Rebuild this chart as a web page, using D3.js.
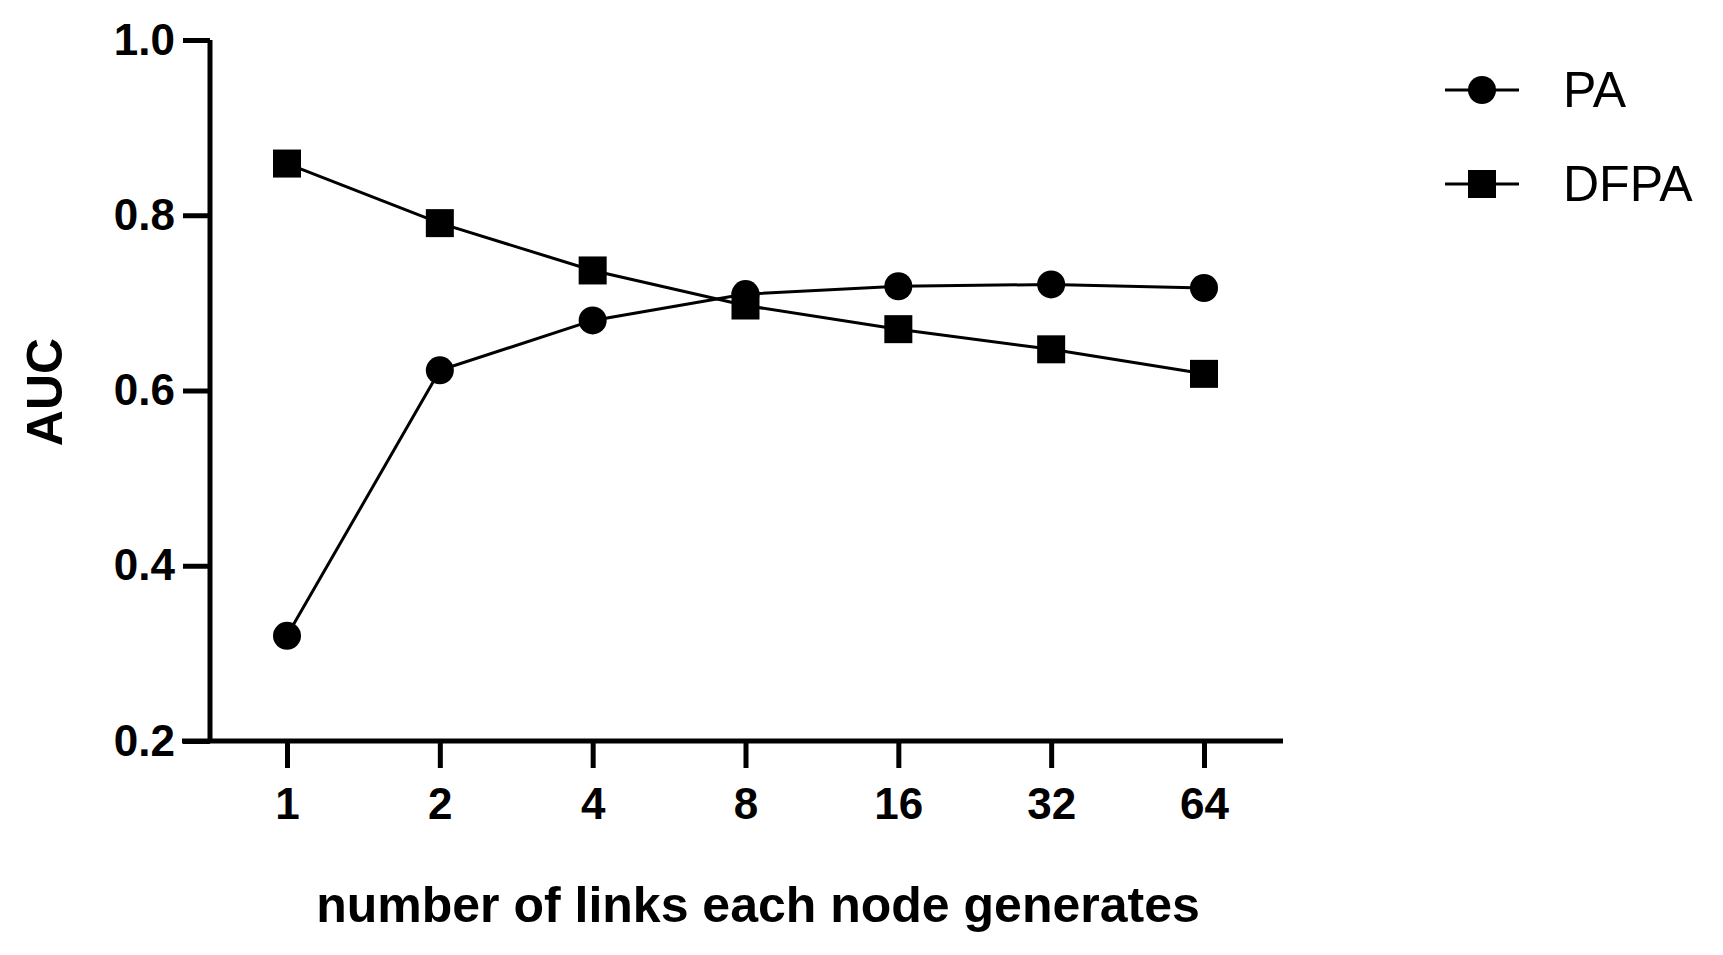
<!DOCTYPE html>
<html><head><meta charset="utf-8">
<script src="https://cdn.jsdelivr.net/npm/d3@7"></script>
<style>body{margin:0;background:#fff}text{font-family:"Liberation Sans",Arial,sans-serif}</style>
</head><body><div id="chart"></div>
<script>
const categories = ['1', '2', '4', '8', '16', '32', '64'];
const paValues = [0.32, 0.623, 0.68, 0.71, 0.719, 0.721, 0.717];
const dfpaValues = [0.859, 0.791, 0.737, 0.697, 0.670, 0.647, 0.619];
const yTicks = [0.2, 0.4, 0.6, 0.8, 1.0];

const W = 1723, H = 955;
const svg = d3.select('#chart').append('svg').attr('width', W).attr('height', H);

const axisX = 210, plotTop = 40, plotBottom = 741;
const x = d3.scalePoint().domain(categories).range([287, 1204]);
const y = d3.scaleLinear().domain([0.2, 1.0]).range([plotBottom, plotTop]);

// y axis
const ya = svg.append('g').attr('transform', `translate(${axisX},0)`)
  .call(d3.axisLeft(y).tickValues(yTicks).tickFormat(d3.format('.1f')).tickSize(27).tickPadding(8));
ya.select('.domain').attr('stroke', '#000').attr('stroke-width', 5).attr('d', `M0,${plotTop}V${plotBottom}`);
ya.selectAll('.tick line').attr('stroke-width', 5);
ya.selectAll('.tick text').attr('font-size', 44).attr('font-weight', 'bold').attr('fill', '#000');

// x axis
const xa = svg.append('g').attr('transform', `translate(0,${plotBottom})`)
  .call(d3.axisBottom(x).tickSize(27).tickPadding(20));
xa.select('.domain').attr('stroke', '#000').attr('stroke-width', 5).attr('d', `M182,0H1283`);
xa.selectAll('.tick line').attr('stroke-width', 5);
xa.selectAll('.tick text').attr('font-size', 44).attr('font-weight', 'bold').attr('fill', '#000');

svg.append('text').attr('x', 758).attr('y', 922).attr('text-anchor', 'middle')
  .attr('font-size', 50).attr('font-weight', 'bold').text('number of links each node generates');
svg.append('text').attr('transform', 'rotate(-90)').attr('x', -392).attr('y', 62)
  .attr('text-anchor', 'middle').attr('font-size', 50).attr('font-weight', 'bold').text('AUC');

const line = d3.line().x((d, i) => x(categories[i])).y(d => y(d));
const series = [
  { name: 'PA', values: paValues, shape: 'circle' },
  { name: 'DFPA', values: dfpaValues, shape: 'square' }
];

function marker(g, shape, cx, cy) {
  if (shape === 'circle') g.append('circle').attr('cx', cx).attr('cy', cy).attr('r', 14).attr('fill', '#000');
  else g.append('rect').attr('x', cx - 14).attr('y', cy - 14).attr('width', 28).attr('height', 28).attr('fill', '#000');
}

series.forEach(s => {
  svg.append('path').attr('d', line(s.values)).attr('fill', 'none').attr('stroke', '#000').attr('stroke-width', 3);
  const g = svg.append('g');
  s.values.forEach((v, i) => marker(g, s.shape, x(categories[i]), y(v)));
});

// legend
const legendY = [90, 184];
series.forEach((s, i) => {
  const g = svg.append('g');
  g.append('line').attr('x1', 1445).attr('x2', 1519).attr('y1', legendY[i]).attr('y2', legendY[i])
    .attr('stroke', '#000').attr('stroke-width', 3);
  marker(g, s.shape, 1482, legendY[i]);
  g.append('text').attr('x', 1563).attr('y', legendY[i] + 17).attr('font-size', 50).text(s.name);
});
</script></body></html>
